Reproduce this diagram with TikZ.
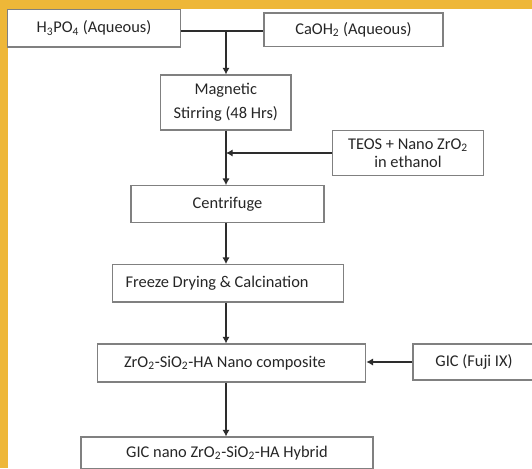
\documentclass[tikz,border=0pt]{standalone}
\usepackage{fontspec}
\setmainfont{Carlito}
\usetikzlibrary{arrows.meta}

\definecolor{frameyellow}{RGB}{238,183,56}
\definecolor{boxgray}{RGB}{128,128,128}
\definecolor{linegray}{RGB}{45,45,45}
\definecolor{textgray}{RGB}{38,38,38}

\tikzset{
  stepbox/.style={draw=boxgray, line width=0.8pt, fill=white, text=textgray, align=center, inner sep=0pt,
    font=\fontsize{12.3}{17.8}\selectfont},
  arr/.style={draw=linegray, line width=1.1pt, -{Latex[length=5pt,width=5.5pt]}},
  joinline/.style={draw=linegray, line width=1.1pt}
}

\begin{document}
\begin{tikzpicture}[x=0.75pt,y=0.75pt,yscale=-1,xscale=1]
\clip (0,0) rectangle (532,468);

% frame
\fill[frameyellow] (0,0) rectangle (532,468);
\fill[white] (8,9) rectangle (532,468);

\coordinate (spine) at (226,0);
\coordinate (join) at (226,31);

% Boxes
\node[stepbox, minimum width=130.1pt, minimum height=28.1pt] (h3po4) at (94,28.25) {H\textsubscript{3}PO\textsubscript{4} (Aqueous)};
\node[stepbox, minimum width=134.25pt, minimum height=25.1pt] (caoh) at (353.5,29.75) {CaOH\textsubscript{2} (Aqueous)};
\node[stepbox, minimum width=97.9pt, minimum height=41.25pt] (stirring) at (225.75,102.5) {Magnetic\\Stirring (48 Hrs)};
\node[stepbox, minimum width=113.25pt, minimum height=33.75pt, font=\fontsize{12.3}{13.2}\selectfont] (teos) at (408,153) {TEOS + Nano ZrO\textsubscript{2}\\in ethanol};
\node[stepbox, minimum width=144.75pt, minimum height=27.5pt] (centrifuge) at (227.5,204) {Centrifuge};
\node[stepbox, minimum width=173.5pt, minimum height=28pt] (freeze) at (227.7,283.3) {Freeze Drying \& Calcination\hspace{16pt}};
\node[stepbox, minimum width=201.3pt, minimum height=28.5pt] (zrcomp) at (231.6,363) {ZrO\textsubscript{2}-SiO\textsubscript{2}-HA Nano composite\hspace{10pt}};
\node[stepbox, minimum width=91.5pt, minimum height=27pt] (gic) at (474,362) {GIC (Fuji IX)};
\node[stepbox, minimum width=219pt, minimum height=24pt] (hybrid) at (227,453) {GIC nano ZrO\textsubscript{2}-SiO\textsubscript{2}-HA Hybrid};

% Connectors
\draw[joinline] (h3po4.east |- join) -- (caoh.west |- join);
\draw[arr] (join) -- (stirring.north -| spine);
\draw[joinline] (stirring.south -| spine) -- (teos.west -| spine);
\draw[arr] (teos.west) -- (teos.west -| spine);
\draw[arr] (teos.west -| spine) -- (centrifuge.north -| spine);
\draw[arr] (centrifuge.south -| spine) -- (freeze.north -| spine);
\draw[arr] (freeze.south -| spine) -- (zrcomp.north -| spine);
\draw[arr] (gic.west) -- (gic.west -| zrcomp.east);
\draw[arr] (zrcomp.south -| spine) -- (hybrid.north -| spine);

\end{tikzpicture}
\end{document}
